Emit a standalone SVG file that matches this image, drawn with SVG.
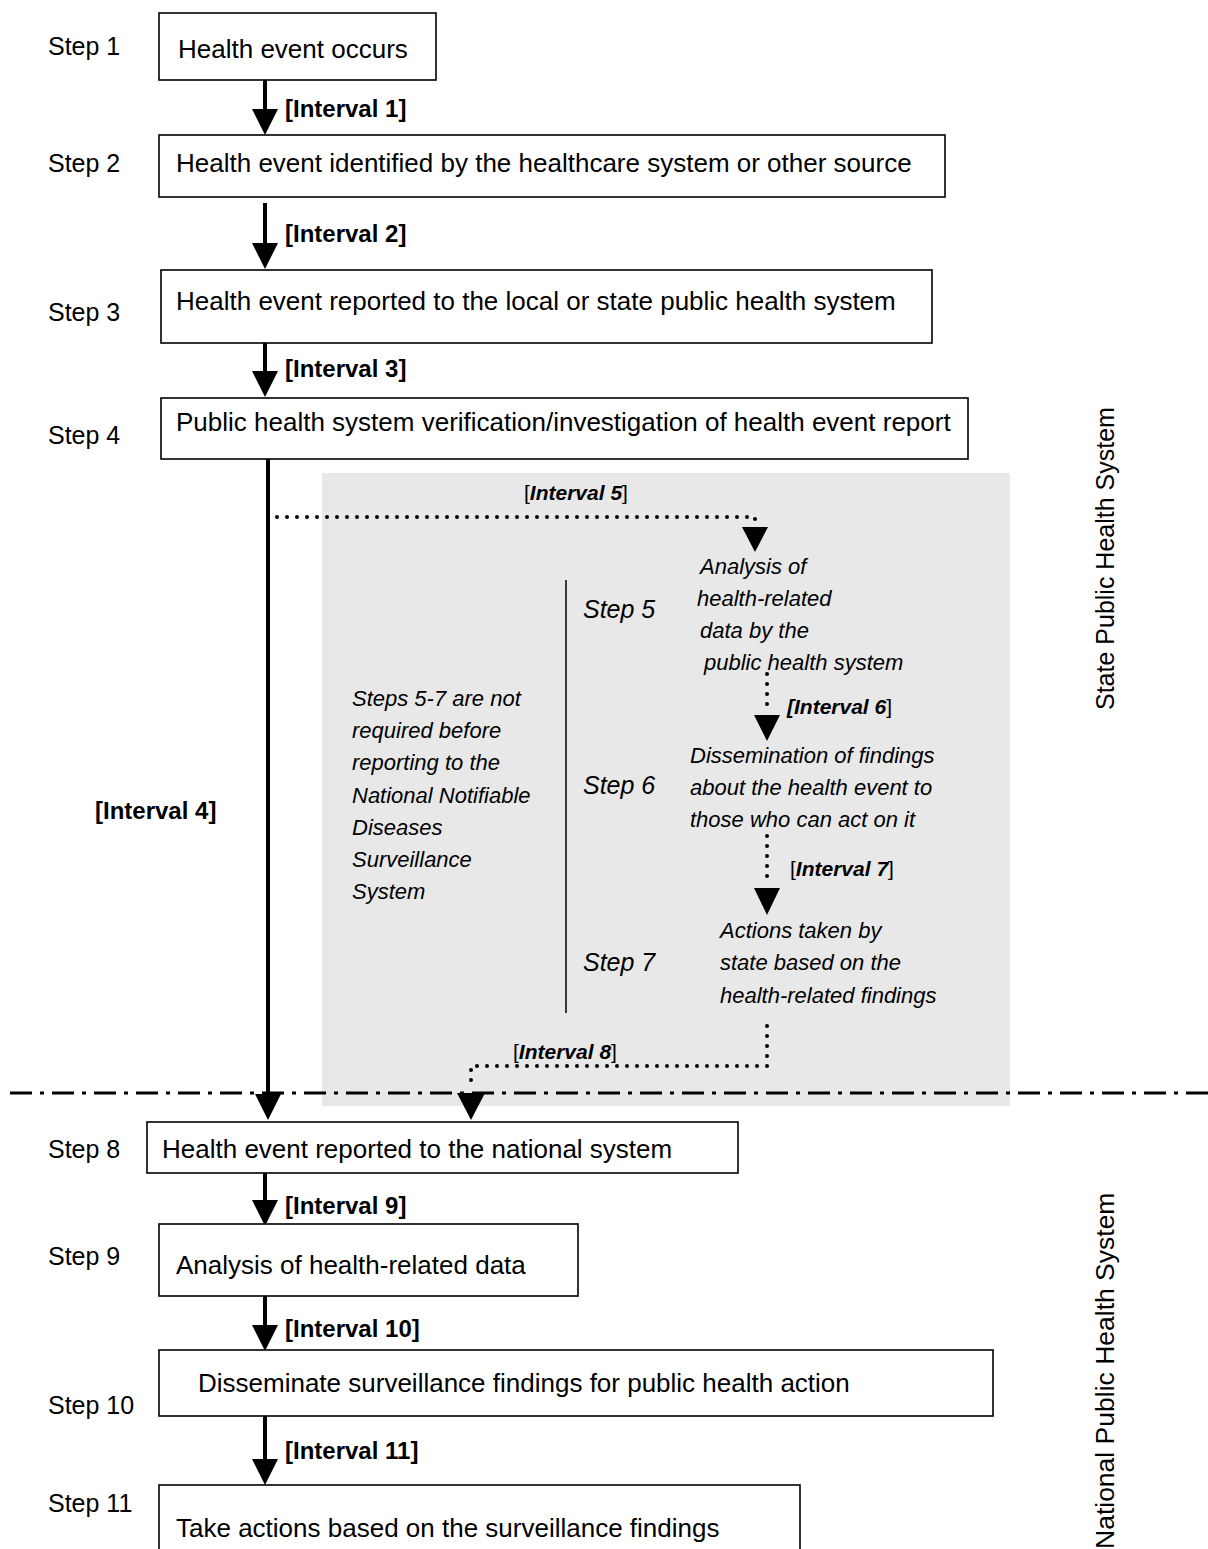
<svg xmlns="http://www.w3.org/2000/svg" width="1208" height="1549" viewBox="0 0 1208 1549">
<style>
.box{fill:#fff;stroke:#000;stroke-width:1.6}
.t{font-family:"Liberation Sans",Arial,sans-serif;font-size:25px;fill:#000}
.bt{font-family:"Liberation Sans",Arial,sans-serif;font-size:26px;fill:#000}
.b{font-family:"Liberation Sans",Arial,sans-serif;font-size:24px;font-weight:bold;fill:#000}
.i{font-family:"Liberation Sans",Arial,sans-serif;font-size:22px;font-style:italic;fill:#000}
.si{font-family:"Liberation Sans",Arial,sans-serif;font-size:25px;font-style:italic;fill:#000}
.il{font-family:"Liberation Sans",Arial,sans-serif;font-size:21px;fill:#000}
.solid{stroke:#000;stroke-width:4;fill:none}
.dot{stroke:#000;stroke-width:4;fill:none;stroke-linecap:round;stroke-dasharray:0 10}
</style>
<defs>
<marker id="ah" markerUnits="userSpaceOnUse" markerWidth="28" markerHeight="28" viewBox="0 0 26 28" refX="0" refY="13" orient="auto">
<path d="M0,0 L26,13 L0,26 Z" fill="#000"/>
</marker>
</defs>
<rect x="322" y="473" width="688" height="633" fill="#e8e8e8"/>
<line x1="10" y1="1093" x2="1208" y2="1093" stroke="#000" stroke-width="3" stroke-dasharray="22 8 4 8"/>
<line x1="566" y1="580" x2="566" y2="1013" stroke="#000" stroke-width="1.5"/>
<g id="connectors">
<line class="solid" x1="265" y1="80" x2="265" y2="109" marker-end="url(#ah)"/>
<line class="solid" x1="265" y1="203" x2="265" y2="243" marker-end="url(#ah)"/>
<line class="solid" x1="265" y1="343" x2="265" y2="371" marker-end="url(#ah)"/>
<line class="solid" x1="268" y1="459" x2="268" y2="1094" marker-end="url(#ah)"/>
<line class="solid" x1="265" y1="1173" x2="265" y2="1200" marker-end="url(#ah)"/>
<line class="solid" x1="265" y1="1296" x2="265" y2="1325" marker-end="url(#ah)"/>
<line class="solid" x1="265" y1="1416" x2="265" y2="1459" marker-end="url(#ah)"/>
<path class="dot" d="M277,517 L755,517 L755,527"/>
<polygon points="742,527 768,527 755,552" fill="#000"/>
<path class="dot" d="M767,674 L767,714"/>
<polygon points="754,715 780,715 767,741" fill="#000"/>
<path class="dot" d="M767,836 L767,886"/>
<polygon points="754,888 780,888 767,915" fill="#000"/>
<path class="dot" d="M767,1026 L767,1066 L471,1066 L471,1086"/>
<polygon points="457,1093 485,1093 471,1120" fill="#000"/>
<text class="b" x="285" y="117">[Interval 1]</text>
<text class="b" x="285" y="242">[Interval 2]</text>
<text class="b" x="285" y="377">[Interval 3]</text>
<text class="b" x="95" y="819">[Interval 4]</text>
<text class="il" x="524" y="500">[<tspan font-weight="bold" font-style="italic">Interval 5</tspan>]</text>
<text class="il" x="787" y="714"><tspan font-weight="bold" font-style="italic">[Interval 6</tspan>]</text>
<text class="il" x="790" y="876">[<tspan font-weight="bold" font-style="italic">Interval 7</tspan>]</text>
<text class="il" x="513" y="1059">[<tspan font-weight="bold" font-style="italic">Interval 8</tspan>]</text>
<text class="b" x="285" y="1214">[Interval 9]</text>
<text class="b" x="285" y="1337">[Interval 10]</text>
<text class="b" x="285" y="1459">[Interval 11]</text>
</g>
<g id="step1"><text class="t" x="48" y="55">Step 1</text><rect class="box" x="159" y="13" width="277" height="67"/><text class="bt" x="178" y="58">Health event occurs</text></g>
<g id="step2"><text class="t" x="48" y="172">Step 2</text><rect class="box" x="159" y="135" width="786" height="62"/><text class="bt" x="176" y="172">Health event identified by the healthcare system or other source</text></g>
<g id="step3"><text class="t" x="48" y="321">Step 3</text><rect class="box" x="161" y="270" width="771" height="73"/><text class="bt" x="176" y="310">Health event reported to the local or state public health system</text></g>
<g id="step4"><text class="t" x="48" y="444">Step 4</text><rect class="box" x="161" y="398" width="807" height="61"/><text class="bt" x="176" y="431">Public health system verification/investigation of health event report</text></g>
<g id="note"><text class="i"><tspan x="352" y="706">Steps 5-7 are not</tspan><tspan x="352" y="738">required before</tspan><tspan x="352" y="770">reporting to the</tspan><tspan x="352" y="803">National Notifiable</tspan><tspan x="352" y="835">Diseases</tspan><tspan x="352" y="867">Surveillance</tspan><tspan x="352" y="899">System</tspan></text></g>
<g id="step5"><text class="si" x="583" y="618">Step 5</text><text class="i"><tspan x="700" y="574">Analysis of</tspan><tspan x="697" y="606">health-related</tspan><tspan x="700" y="638">data by the</tspan><tspan x="704" y="670">public health system</tspan></text></g>
<g id="step6"><text class="si" x="583" y="794">Step 6</text><text class="i"><tspan x="690" y="763">Dissemination of findings</tspan><tspan x="690" y="795">about  the health event to</tspan><tspan x="690" y="827">those who can act on it</tspan></text></g>
<g id="step7"><text class="si" x="583" y="971">Step 7</text><text class="i"><tspan x="720" y="938">Actions taken by</tspan><tspan x="720" y="970">state based on the</tspan><tspan x="720" y="1003">health-related findings</tspan></text></g>
<g id="step8"><text class="t" x="48" y="1158">Step 8</text><rect class="box" x="147" y="1122" width="591" height="51"/><text class="bt" x="162" y="1158">Health event reported to the national system</text></g>
<g id="step9"><text class="t" x="48" y="1265">Step 9</text><rect class="box" x="159" y="1224" width="419" height="72"/><text class="bt" x="176" y="1274">Analysis of health-related data</text></g>
<g id="step10"><text class="t" x="48" y="1414">Step 10</text><rect class="box" x="159" y="1350" width="834" height="66"/><text class="bt" x="198" y="1392">Disseminate surveillance findings for public health action</text></g>
<g id="step11"><text class="t" x="48" y="1512">Step 11</text><rect class="box" x="159" y="1485" width="641" height="70"/><text class="bt" x="176" y="1537">Take actions based on the surveillance findings</text></g>
<g id="state-label"><text class="t" transform="translate(1114,710) rotate(-90)">State Public Health System</text></g>
<g id="national-label"><text class="t" style="font-size:26.5px" transform="translate(1114,1549) rotate(-90)">National Public Health System</text></g>
</svg>
